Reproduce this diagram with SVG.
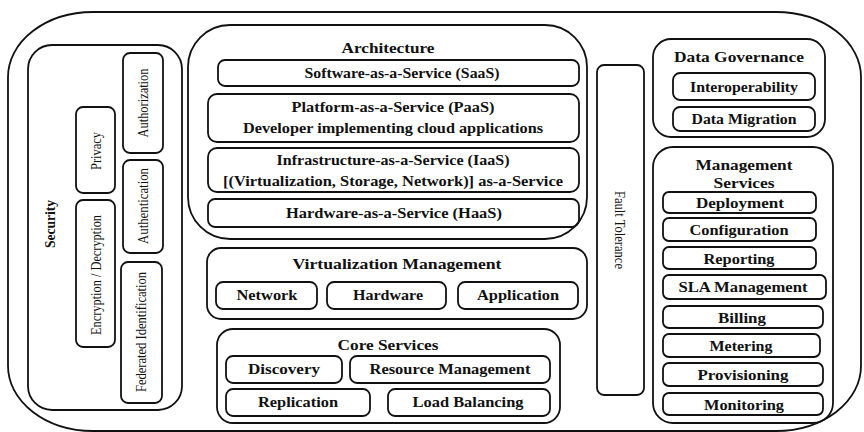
<svg xmlns="http://www.w3.org/2000/svg" width="864" height="432" viewBox="0 0 864 432">
<style>
.b{fill:none;stroke:#111;stroke-width:1.8}
.t{font-family:'Liberation Serif','Times New Roman',serif;font-weight:700;font-size:14px;fill:#111;text-anchor:middle;dominant-baseline:central}
.r{font-family:'Liberation Serif','Times New Roman',serif;font-weight:400;font-size:15px;fill:#111;text-anchor:middle;dominant-baseline:central}
</style>
<rect width="864" height="432" fill="#fff"/>
<rect class="b" x="8" y="12" width="853" height="419" rx="85" ry="65"/>
<g id="security">
<rect class="b" x="28" y="45" width="154" height="365" rx="24"/>
<text class="t" transform="rotate(-90 50 224)" x="50" y="224" textLength="48" lengthAdjust="spacingAndGlyphs">Security</text>
</g>
<g id="privacy"><rect class="b" x="76" y="107" width="39" height="86" rx="7"/><text class="r" transform="rotate(-90 96 151)" x="96" y="151" textLength="38" lengthAdjust="spacingAndGlyphs">Privacy</text></g>
<g id="encryption"><rect class="b" x="76" y="200" width="39" height="147" rx="7"/><text class="r" transform="rotate(-90 96 275)" x="96" y="275" textLength="120" lengthAdjust="spacingAndGlyphs">Encryption / Decryption</text></g>
<g id="authorization"><rect class="b" x="123" y="53" width="40" height="100" rx="7"/><text class="r" transform="rotate(-90 143 103)" x="143" y="103" textLength="69" lengthAdjust="spacingAndGlyphs">Authorization</text></g>
<g id="authentication"><rect class="b" x="123" y="160" width="40" height="93" rx="7"/><text class="r" transform="rotate(-90 143 206)" x="143" y="206" textLength="76" lengthAdjust="spacingAndGlyphs">Authentication</text></g>
<g id="federated"><rect class="b" x="121" y="262" width="41" height="141" rx="7"/><text class="r" transform="rotate(-90 141 332)" x="141" y="332" textLength="120" lengthAdjust="spacingAndGlyphs">Federated Identification</text></g>

<g id="architecture">
<rect class="b" x="188" y="25" width="399" height="214" rx="42"/>
<text class="t" x="388" y="48" textLength="93" lengthAdjust="spacingAndGlyphs">Architecture</text>
</g>
<g id="saas"><rect class="b" x="218" y="60" width="361" height="26" rx="7"/><text class="t" x="402" y="73" textLength="195" lengthAdjust="spacingAndGlyphs">Software-as-a-Service (SaaS)</text></g>
<g id="paas"><rect class="b" x="208" y="94" width="371" height="48" rx="9"/><text class="t" x="393" y="107" textLength="203" lengthAdjust="spacingAndGlyphs">Platform-as-a-Service (PaaS)</text><text class="t" x="393" y="128" textLength="300" lengthAdjust="spacingAndGlyphs">Developer implementing cloud applications</text></g>
<g id="iaas"><rect class="b" x="208" y="148" width="371" height="44" rx="9"/><text class="t" x="393" y="160" textLength="233" lengthAdjust="spacingAndGlyphs">Infrastructure-as-a-Service (IaaS)</text><text class="t" x="393" y="181" textLength="340" lengthAdjust="spacingAndGlyphs">[(Virtualization, Storage, Network)] as-a-Service</text></g>
<g id="haas"><rect class="b" x="208" y="199" width="371" height="28" rx="7"/><text class="t" x="394" y="213" textLength="216" lengthAdjust="spacingAndGlyphs">Hardware-as-a-Service (HaaS)</text></g>

<g id="virtualization">
<rect class="b" x="207" y="248" width="380" height="71" rx="14"/>
<text class="t" x="397" y="264" textLength="209" lengthAdjust="spacingAndGlyphs">Virtualization Management</text>
</g>
<g id="network"><rect class="b" x="216" y="282" width="101" height="27" rx="7"/><text class="t" x="267" y="295" textLength="61" lengthAdjust="spacingAndGlyphs">Network</text></g>
<g id="hardware"><rect class="b" x="327" y="282" width="119" height="27" rx="7"/><text class="t" x="388" y="295" textLength="70" lengthAdjust="spacingAndGlyphs">Hardware</text></g>
<g id="application"><rect class="b" x="458" y="282" width="120" height="27" rx="7"/><text class="t" x="518" y="295" textLength="82" lengthAdjust="spacingAndGlyphs">Application</text></g>

<g id="core">
<rect class="b" x="217" y="329" width="343" height="94" rx="16"/>
<text class="t" x="388" y="345" textLength="101" lengthAdjust="spacingAndGlyphs">Core Services</text>
</g>
<g id="discovery"><rect class="b" x="226" y="356" width="116" height="27" rx="7"/><text class="t" x="284" y="369" textLength="72" lengthAdjust="spacingAndGlyphs">Discovery</text></g>
<g id="resource"><rect class="b" x="350" y="356" width="200" height="27" rx="7"/><text class="t" x="450" y="369" textLength="161" lengthAdjust="spacingAndGlyphs">Resource Management</text></g>
<g id="replication"><rect class="b" x="226" y="389" width="144" height="27" rx="7"/><text class="t" x="298" y="402" textLength="80" lengthAdjust="spacingAndGlyphs">Replication</text></g>
<g id="loadbalancing"><rect class="b" x="388" y="389" width="162" height="27" rx="7"/><text class="t" x="468" y="402" textLength="111" lengthAdjust="spacingAndGlyphs">Load Balancing</text></g>

<g id="fault"><rect class="b" x="597" y="65" width="47" height="330" rx="7"/><text class="r" transform="rotate(90 620 230)" x="620" y="230" textLength="78" lengthAdjust="spacingAndGlyphs">Fault Tolerance</text></g>

<g id="datagov">
<rect class="b" x="653" y="39" width="172" height="98" rx="18"/>
<text class="t" x="739" y="57" textLength="130" lengthAdjust="spacingAndGlyphs">Data Governance</text>
</g>
<g id="interop"><rect class="b" x="673" y="73" width="142" height="27" rx="7"/><text class="t" x="744" y="87" textLength="108" lengthAdjust="spacingAndGlyphs">Interoperability</text></g>
<g id="datamigration"><rect class="b" x="673" y="107" width="142" height="24" rx="7"/><text class="t" x="744" y="119" textLength="105" lengthAdjust="spacingAndGlyphs">Data Migration</text></g>

<g id="mgmt">
<rect class="b" x="653" y="147" width="180" height="276" rx="20"/>
<text class="t" x="744" y="165" textLength="97" lengthAdjust="spacingAndGlyphs">Management</text>
<text class="t" x="744" y="183" textLength="61" lengthAdjust="spacingAndGlyphs">Services</text>
</g>
<g id="deployment"><rect class="b" x="663" y="192" width="153" height="21" rx="6"/><text class="t" x="740" y="203" textLength="88" lengthAdjust="spacingAndGlyphs">Deployment</text></g>
<g id="configuration"><rect class="b" x="663" y="218" width="153" height="23" rx="6"/><text class="t" x="739" y="230" textLength="99" lengthAdjust="spacingAndGlyphs">Configuration</text></g>
<g id="reporting"><rect class="b" x="663" y="247" width="153" height="22" rx="6"/><text class="t" x="739" y="259" textLength="71" lengthAdjust="spacingAndGlyphs">Reporting</text></g>
<g id="sla"><rect class="b" x="663" y="275" width="163" height="24" rx="6"/><text class="t" x="743" y="287" textLength="129" lengthAdjust="spacingAndGlyphs">SLA Management</text></g>
<g id="billing"><rect class="b" x="663" y="306" width="160" height="22" rx="6"/><text class="t" x="742" y="318" textLength="48" lengthAdjust="spacingAndGlyphs">Billing</text></g>
<g id="metering"><rect class="b" x="663" y="334" width="157" height="23" rx="6"/><text class="t" x="741" y="346" textLength="63" lengthAdjust="spacingAndGlyphs">Metering</text></g>
<g id="provisioning"><rect class="b" x="663" y="363" width="160" height="23" rx="6"/><text class="t" x="743" y="375" textLength="91" lengthAdjust="spacingAndGlyphs">Provisioning</text></g>
<g id="monitoring"><rect class="b" x="663" y="393" width="160" height="22" rx="6"/><text class="t" x="744" y="405" textLength="80" lengthAdjust="spacingAndGlyphs">Monitoring</text></g>
<g id="connectors"/>
</svg>
